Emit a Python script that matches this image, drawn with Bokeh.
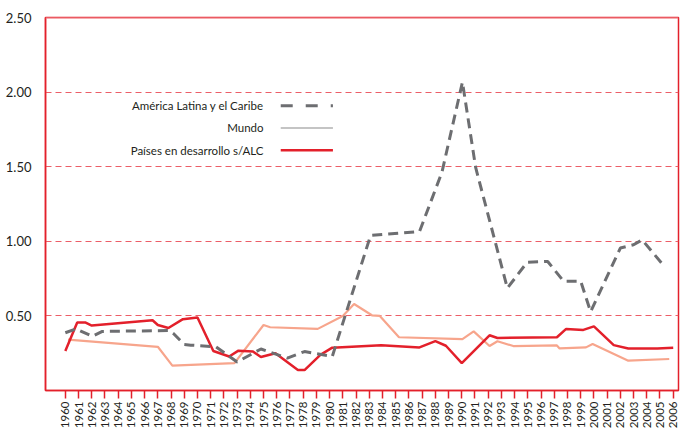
from bokeh.plotting import figure
from bokeh.models import (FixedTicker, Range1d, Span, Label, Arrow, NumeralTickFormatter)
from bokeh.embed import file_html
from bokeh.resources import INLINE
from math import pi

# ---- data ----
axis_years = list(range(1960, 2007))
y_ticks = [0.5, 1.0, 1.5, 2.0, 2.5]

alc_name = "América Latina y el Caribe"
alc_years = [1960, 1960.8, 1962.05, 1962.8, 1967.85, 1968.2, 1969, 1969.5, 1971.4, 1973.0,
             1974.8, 1976.8, 1978.1, 1980.2, 1983.1, 1986.8, 1988.5, 1990.05, 1991.05, 1993.45,
             1994.95, 1996.5, 1997.7, 1999.0, 1999.75, 2002.0, 2003.0, 2003.65, 2005.2]
alc_vals = [0.387, 0.413, 0.363, 0.396, 0.402, 0.38, 0.308, 0.304, 0.293, 0.191,
            0.278, 0.217, 0.261, 0.228, 1.039, 1.065, 1.463, 2.067, 1.495, 0.686,
            0.86, 0.865, 0.733, 0.733, 0.528, 0.955, 0.977, 1.01, 0.845]

mundo_name = "Mundo"
mundo_years = [1960.2, 1967.0, 1968.1, 1972.8, 1975.0, 1975.5, 1979.1, 1981.0, 1981.85, 1983.2,
               1983.8, 1985.25, 1990.05, 1990.9, 1992.1, 1992.7, 1993.9, 1997.2, 1997.4, 1999.4,
               1999.9, 2002.6, 2005.7]
mundo_vals = [0.341, 0.293, 0.167, 0.184, 0.439, 0.424, 0.413, 0.5, 0.58, 0.504,
              0.5, 0.357, 0.344, 0.396, 0.298, 0.33, 0.298, 0.302, 0.282, 0.289,
              0.311, 0.2, 0.211]

pd_name = "Países en desarrollo s/ALC"
pd_years = [1960, 1960.9, 1961.5, 1962, 1966.6, 1967, 1967.8, 1968.9, 1970, 1971.2,
            1972.4, 1973.1, 1974.2, 1974.8, 1975.9, 1977.6, 1978.1, 1979.3, 1980.2, 1983.9,
            1986.8, 1988, 1988.8, 1990, 1992.1, 1992.7, 1997.2, 1997.9, 1999.2, 2000,
            2001.5, 2002.6, 2004.8, 2006]
pd_vals = [0.265, 0.456, 0.456, 0.435, 0.471, 0.439, 0.419, 0.478, 0.489, 0.265,
           0.228, 0.267, 0.261, 0.224, 0.25, 0.137, 0.137, 0.239, 0.287, 0.304,
           0.289, 0.331, 0.30, 0.184, 0.37, 0.352, 0.357, 0.413, 0.406, 0.43,
           0.304, 0.282, 0.282, 0.287]

# ---- styles ----
RED = "#e3202b"
GRID = "#ec5f68"
PINK = "#f3939a"
GREY = "#6d6e71"
SALMON = "#f7a58c"
LIGHTGREY = "#c4c4c4"
TXT = "#231f20"
FONT = "Lato"

p = figure(width=681, height=431, output_backend="svg", toolbar_location=None,
           x_range=Range1d(1958.5, 2006.4), y_range=Range1d(0, 2.5),
           min_border_left=45, min_border_right=3, min_border_top=17, min_border_bottom=41)
p.background_fill_color = "white"
p.border_fill_color = "white"
p.outline_line_color = RED
p.outline_line_width = 1.5

p.xgrid.visible = False
p.ygrid.ticker = FixedTicker(ticks=y_ticks[:-1])
p.ygrid.grid_line_color = GRID
p.ygrid.grid_line_dash = "6 4"
p.ygrid.grid_line_width = 1

# series
p.line(mundo_years, mundo_vals, line_color=SALMON, line_width=2.2)
p.line(pd_years, pd_vals, line_color=RED, line_width=2.5)
p.line(alc_years, alc_vals, line_color=GREY, line_width=3, line_dash="10 6")

# top border
p.add_layout(Span(location=2.5, dimension="width", line_color=PINK, line_width=2))

# axes
xa = p.xaxis[0]
xa.ticker = FixedTicker(ticks=axis_years)
xa.major_label_overrides = {yr: str(yr) for yr in axis_years}
xa.major_label_orientation = pi / 2
xa.axis_line_color = RED
xa.axis_line_width = 1.5
xa.major_tick_line_color = RED
xa.major_tick_line_width = 1.5
xa.major_tick_out = 8
xa.major_tick_in = 0
xa.minor_tick_line_color = None
xa.major_label_standoff = 3
xa.major_label_text_font = FONT
xa.major_label_text_font_size = "11.5px"
xa.major_label_text_color = TXT

ya = p.yaxis[0]
ya.ticker = FixedTicker(ticks=y_ticks)
ya.formatter = NumeralTickFormatter(format="0.00")
ya.axis_line_color = RED
ya.axis_line_width = 1.5
ya.major_tick_line_color = None
ya.major_tick_out = 0
ya.major_tick_in = 0
ya.minor_tick_line_color = None
ya.major_label_standoff = 14
ya.major_label_text_font = FONT
ya.major_label_text_font_size = "13px"
ya.major_label_text_color = TXT

# legend: text on the left (right aligned), line sample on the right
names = [alc_name, mundo_name, pd_name]
leg_rows = [1.908, 1.76, 1.611]
leg_text_x = 1975.0
leg_line_x0, leg_line_x1 = 1976.3, 1980.25
leg_styles = [dict(line_color=GREY, line_width=3, line_dash="12 13"),
              dict(line_color=LIGHTGREY, line_width=2),
              dict(line_color=RED, line_width=2.5)]
for name, ry, st in zip(names, leg_rows, leg_styles):
    p.add_layout(Label(x=leg_text_x, y=ry, text=name,
                       text_align="right", text_baseline="middle", text_font=FONT,
                       text_font_size="11.5px", text_color=TXT))
    p.add_layout(Arrow(end=None, x_start=leg_line_x0, y_start=ry, x_end=leg_line_x1,
                       y_end=ry, **st))

open("out.html", "w").write(file_html(p, INLINE))
